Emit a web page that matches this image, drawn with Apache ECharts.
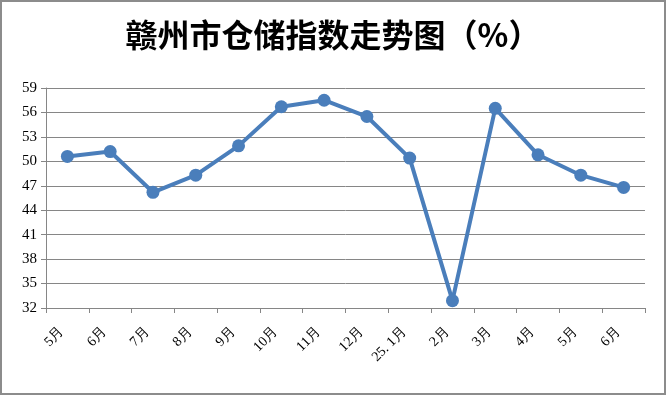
<!DOCTYPE html>
<html><head><meta charset="utf-8">
<script src="https://cdn.jsdelivr.net/npm/echarts@6/dist/echarts.min.js"></script>
<style>html,body{margin:0;padding:0;background:#fff}#c{width:666px;height:395px;box-sizing:border-box;border:2px solid #8c8c8c;}</style>
</head><body><div id="c"></div>
<script>
const categories = ['5月','6月','7月','8月','9月','10月','11月','12月','25. 1月','2月','3月','4月','5月','6月'];
const values = [50.6, 51.2, 46.2, 48.3, 51.9, 56.7, 57.5, 55.5, 50.4, 32.9, 56.5, 50.8, 48.3, 46.8];
const yMin = 32, yMax = 59, yStep = 3;
const titleText = '赣州市仓储指数走势图（%）';
const chart = echarts.init(document.getElementById('c'), null, {renderer:'canvas'});
chart.setOption({
  animation:false,
  title:{text:titleText,left:'center',top:12,textStyle:{fontFamily:'Noto Sans CJK SC',fontWeight:'bold',fontSize:32,color:'#000'}},
  grid:{left:44,right:19,top:86,bottom:85},
  xAxis:{type:'category',data:categories,boundaryGap:true,
    axisLine:{lineStyle:{color:'#868686',width:1}},
    axisTick:{show:true,length:5,lineStyle:{color:'#868686'}},
    axisLabel:{rotate:45,fontFamily:'Liberation Serif',fontSize:14,color:'#000',margin:16,padding:[0,8,0,0],interval:0}},
  yAxis:{type:'value',min:yMin,max:yMax,interval:yStep,
    axisLine:{show:true,lineStyle:{color:'#868686',width:1}},
    axisTick:{show:true,length:5,lineStyle:{color:'#868686'}},
    splitLine:{lineStyle:{color:'#868686',width:1}},
    axisLabel:{fontFamily:'Liberation Serif',fontSize:15,color:'#000',margin:9}},
  series:[{type:'line',data:values,symbol:'circle',symbolSize:13,
    lineStyle:{color:'#4a7ebb',width:4},itemStyle:{color:'#4a7ebb'}}]
});
</script></body></html>
